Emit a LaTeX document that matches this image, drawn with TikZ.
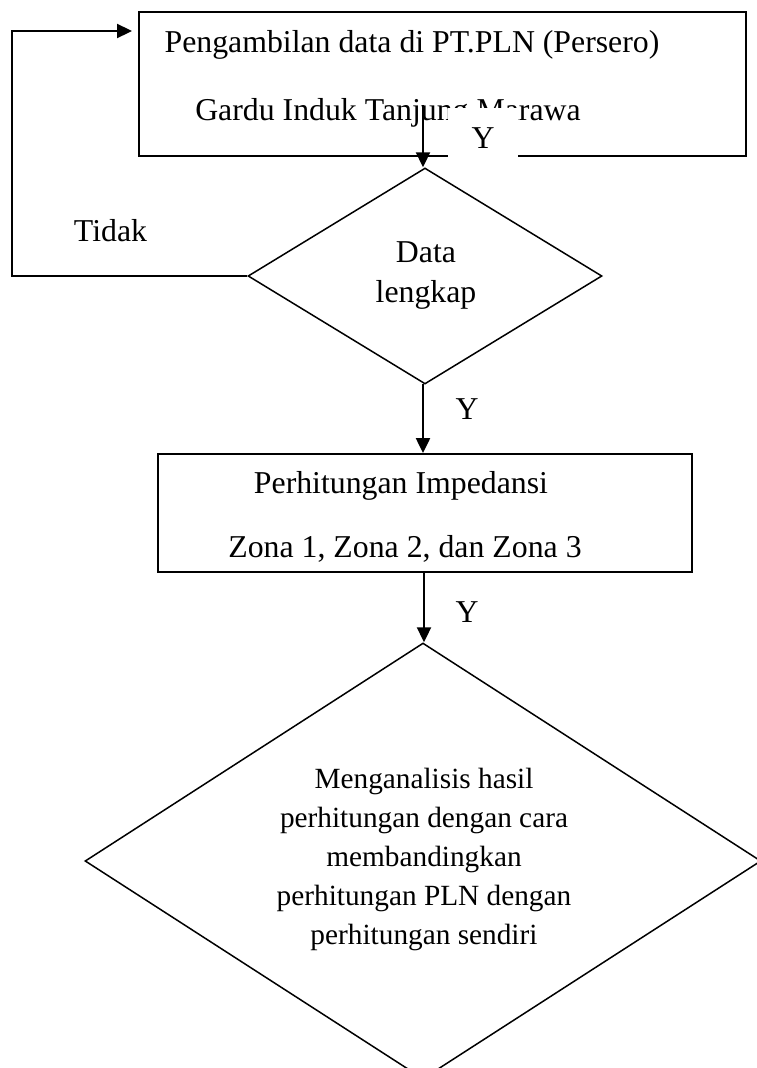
\documentclass[tikz,border=0pt]{standalone}
\usepackage{fontspec}
\setmainfont{Liberation Serif}
\usetikzlibrary{shapes.geometric,arrows.meta}
\begin{document}
\begin{tikzpicture}[x=1pt,y=-1pt,
  txt/.style={font=\fontsize{31.8}{39}\selectfont, inner sep=0pt, anchor=base},
  small/.style={font=\fontsize{29.3}{39}\selectfont, inner sep=0pt, anchor=base},
  box/.style={draw, line width=1.9pt, rectangle, inner sep=0pt},
  dia/.style={draw, line width=1.5pt, diamond, inner sep=0pt},
  conn/.style={line width=2.3pt, -{Triangle[length=15pt,width=14pt]}}]
\useasboundingbox (0,0) rectangle (757,1068);
\clip (0,0) rectangle (757,1068);
% top box
\node[box, minimum width=607pt, minimum height=144pt] (top) at (442.5,84) {};
\node[txt] (t1) at (412,52) {Pengambilan data di PT.PLN (Persero)};
\node[txt] (t2) at (388,120) {Gardu Induk Tanjung Marawa};
\fill[white] (448,108) rectangle (518,162);
\node[txt] (y1) at (483,148) {Y};
% decision 1
\node[dia, minimum width=354pt, minimum height=216pt] (d1) at (425,276) {};
\node[txt] (d1a) at (426,262) {Data};
\node[txt] (d1b) at (426,302) {lengkap};
\node[txt] (tidak) at (110.5,241) {Tidak};
% box 2
\node[box, minimum width=534pt, minimum height=118pt] (b2) at (425,513) {};
\node[txt] (b2a) at (401,493) {Perhitungan Impedansi};
\node[txt] (b2b) at (405,557) {Zona 1, Zona 2, dan Zona 3};
\node[txt] (y2) at (467,419) {Y};
\node[txt] (y3) at (467,622) {Y};
% decision 2
\node[dia, minimum width=676pt, minimum height=436pt] (d2) at (423,861) {};
\node[small] (m1) at (424,788) {Menganalisis hasil};
\node[small] (m2) at (424,827) {perhitungan dengan cara};
\node[small] (m3) at (424,866) {membandingkan};
\node[small] (m4) at (424,905) {perhitungan PLN dengan};
\node[small] (m5) at (424,944) {perhitungan sendiri};
% connectors
\coordinate (s1) at (423,105);
\draw[conn] (s1) -- (s1 |- d1.north);
\coordinate (s2) at (423,384);
\draw[conn] (s2) -- (s2 |- b2.north);
\coordinate (s3) at (424,572);
\draw[conn] (s3) -- (s3 |- d2.north);
\coordinate (c1) at (12,276);
\coordinate (c2) at (12,31);
\coordinate (c3) at (132,31);
\draw[conn] (d1.west) -- (c1) -- (c2) -- (c3);
\end{tikzpicture}
\end{document}
